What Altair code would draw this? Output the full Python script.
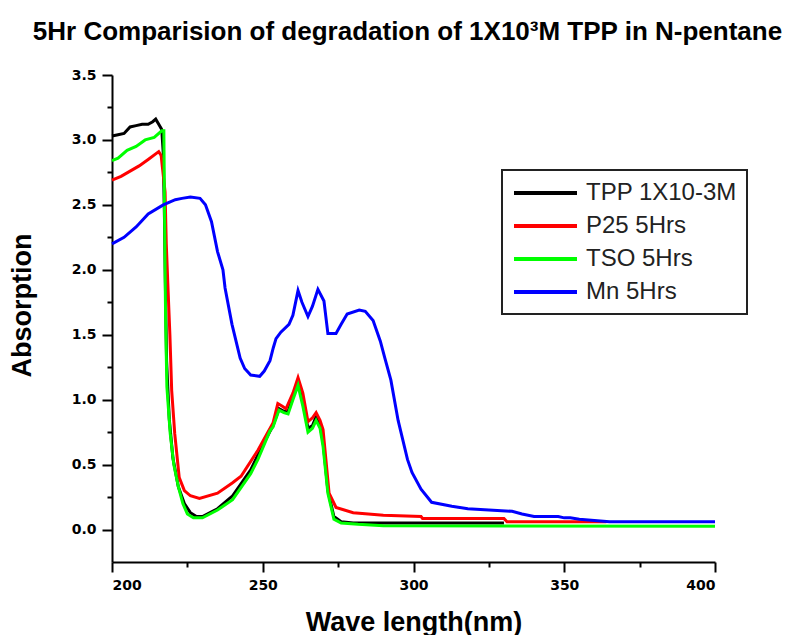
import altair as alt
import pandas as pd

# Series names (legend order)
series_names = ["TPP 1X10-3M", "P25 5Hrs", "TSO 5Hrs", "Mn 5Hrs"]
series_colors = ["#000000", "#ff0000", "#00ff00", "#0000ff"]

# TPP 1X10-3M (black)
tpp_x = [200, 202, 204, 206, 208, 210, 212, 213.5, 214.5, 215.5, 216.5, 217.0, 217.4, 217.7, 218.1, 219,
         220.2, 222, 224, 226, 228, 230, 235, 240, 246, 250, 253.4, 255.4, 257, 258.4, 260, 261.7, 263.3,
         265, 266.5, 267.7, 269, 270, 271.6, 273.6, 276, 280, 300, 330]
tpp_y = [3.03, 3.04, 3.05, 3.10, 3.11, 3.12, 3.12, 3.14, 3.16, 3.12, 3.08, 2.9, 2.4, 1.9, 1.3, 0.85,
         0.55, 0.33, 0.2, 0.13, 0.10, 0.10, 0.16, 0.26, 0.46, 0.65, 0.80, 0.93, 0.91, 0.91, 1.02, 1.13, 0.98,
         0.78, 0.80, 0.87, 0.80, 0.68, 0.30, 0.10, 0.06, 0.05, 0.05, 0.05]

# P25 5Hrs (red)
p25_x = [200, 203, 206, 209, 212, 215.5, 216.3, 217.6, 218.0, 218.5, 219.2, 219.8, 220.8, 222.3, 224, 226,
         229, 235, 240, 242.8, 248.4, 253.4, 255, 256.5, 257.7, 260, 261.7, 263.3, 265, 266.5, 267.7, 269,
         270, 272, 274.3, 280, 290, 302.5, 303, 330, 331, 364]
p25_y = [2.69, 2.72, 2.76, 2.80, 2.85, 2.91, 2.88, 2.6, 2.2, 1.9, 1.5, 1.07, 0.74, 0.40, 0.30, 0.26,
         0.24, 0.28, 0.36, 0.41, 0.61, 0.82, 0.97, 0.95, 0.93, 1.05, 1.17, 1.05, 0.83, 0.86, 0.90, 0.84,
         0.77, 0.28, 0.17, 0.13, 0.11, 0.10, 0.085, 0.085, 0.06, 0.06]

# TSO 5Hrs (green)
tso_x = [200, 202, 205, 208, 211, 214, 216.5, 217.2, 217.4, 217.6, 217.8, 218.2, 219.3, 220.5, 222, 223.5,
         225, 227, 230, 235, 240, 246, 248.4, 252.4, 253.4, 255.4, 257, 258.4, 260, 261.7, 263.3, 265,
         266.5, 267.7, 269, 270, 271.6, 273.6, 276, 281.6, 290, 400]
tso_y = [2.84, 2.86, 2.92, 2.95, 3.00, 3.02, 3.07, 3.07, 2.5, 2.0, 1.6, 1.1, 0.74, 0.5, 0.33, 0.2,
         0.12, 0.09, 0.09, 0.15, 0.23, 0.43, 0.54, 0.76, 0.79, 0.92, 0.90, 0.89, 1.00, 1.11, 0.95, 0.75,
         0.78, 0.84, 0.78, 0.64, 0.28, 0.08, 0.05, 0.04, 0.03, 0.025]

# Mn 5Hrs (blue)
mn_x = [200, 204, 208, 212, 217, 221, 223.2, 226, 229.2, 231, 233, 235, 236.8, 237.5, 239.8, 242.5, 244,
        246, 249, 250.5, 252.4, 253.5, 254.4, 256, 258.7, 260, 261.7, 263, 265, 266.5, 268.3, 270.3,
        271.6, 274.3, 276, 278, 282, 284, 286.6, 289, 290.5, 292.5, 294.9, 298, 299.5, 302.5, 306, 312.7,
        318, 325, 332.7, 336, 340, 348, 350, 352, 355, 365, 400]
mn_y = [2.20, 2.25, 2.33, 2.43, 2.50, 2.54, 2.55, 2.56, 2.55, 2.50, 2.37, 2.14, 2.00, 1.86, 1.58, 1.32, 1.24,
        1.19, 1.18, 1.22, 1.30, 1.40, 1.47, 1.52, 1.58, 1.65, 1.84, 1.75, 1.64, 1.72, 1.85, 1.76,
        1.51, 1.51, 1.58, 1.66, 1.69, 1.68, 1.61, 1.45, 1.32, 1.15, 0.84, 0.54, 0.44, 0.31, 0.21, 0.18,
        0.16, 0.15, 0.14, 0.12, 0.10, 0.10, 0.09, 0.09, 0.08, 0.06, 0.06]

x_ticks = [200, 225, 250, 275, 300, 325, 350, 375, 400]
y_ticks = [0, 0.25, 0.5, 0.75, 1.0, 1.25, 1.5, 1.75, 2.0, 2.25, 2.5, 2.75, 3.0, 3.25, 3.5]

frames = []
for i, (name, xs, ys) in enumerate(zip(series_names,
                                       [tpp_x, p25_x, tso_x, mn_x],
                                       [tpp_y, p25_y, tso_y, mn_y])):
    frames.append(pd.DataFrame({"wl": xs, "abs": ys, "series": name, "order": i}))
df = pd.concat(frames, ignore_index=True)

chart = alt.Chart(df).mark_line(strokeWidth=3).encode(
    x=alt.X("wl:Q",
            scale=alt.Scale(domain=[200, 400], nice=False, zero=False),
            axis=alt.Axis(title="Wave length(nm)", values=x_ticks, format="d",
                          labelExpr="datum.value % 50 == 0 ? datum.label : ''",
                          tickSize={"condition": {"test": "datum.value % 50 == 0", "value": 10}, "value": 5},
                          labelPadding=6, titleY=68, titleBaseline="alphabetic",
                          titleFontSize=27)),
    y=alt.Y("abs:Q",
            scale=alt.Scale(domain=[-0.25, 3.5], nice=False, zero=False),
            axis=alt.Axis(title="Absorption", values=y_ticks, format=".1f",
                          labelExpr="datum.value % 0.5 == 0 ? datum.label : ''",
                          tickSize={"condition": {"test": "datum.value % 0.5 == 0", "value": 10}, "value": 5},
                          labelPadding=6, titleX=-76, titleY=230, titleBaseline="bottom",
                          titleFontSize=27)),
    color=alt.Color("series:N",
                    scale=alt.Scale(domain=series_names, range=series_colors),
                    legend=alt.Legend(title=None, orient="none", legendX=390, legendY=95,
                                      symbolType="M-1,0H4.727", symbolSize=484, symbolStrokeWidth=4,
                                      labelFont="Liberation Sans", labelFontSize=24, labelColor="#222222",
                                      labelOffset=48, rowPadding=8, padding=10,
                                      strokeColor="#222222", fillColor="white",
                                      labelLimit=400)),
    order=alt.Order("order:Q"),
    detail="series:N",
).properties(
    width=603,
    height=487,
    title=alt.TitleParams("5Hr Comparision of degradation of 1X10³M TPP in N-pentane",
                          font="Liberation Sans", fontSize=26, fontWeight="bold",
                          anchor="middle", offset=23, dx=-6, color="#000000"),
    autosize=alt.AutoSizeParams(type="none"),
    padding={"left": 112, "top": 75, "right": 71, "bottom": 73},
).configure_view(
    stroke=None
).configure_legend(
    strokeWidth=2
).configure_axis(
    domainColor="#000000", domainWidth=2, tickColor="#000000", tickWidth=2,
    labelFont="DejaVu Sans", labelFontWeight="bold", labelFontSize=14, labelColor="#000000",
    titleFont="Liberation Sans", titleFontWeight="bold", titleColor="#000000",
    grid=False
)

chart.save("out.html", embed_options={"renderer": "svg", "actions": False})
